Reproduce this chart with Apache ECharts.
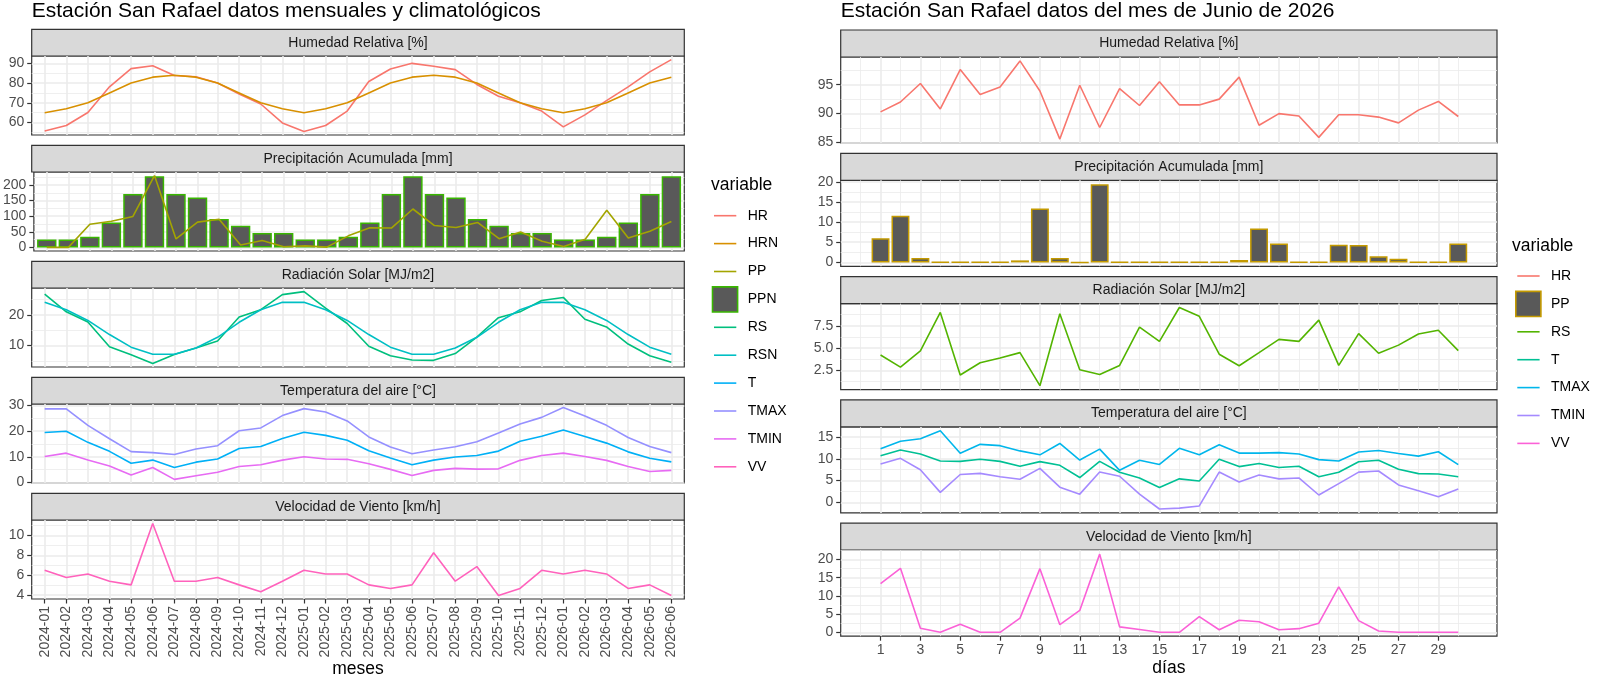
<!DOCTYPE html>
<html><head><meta charset="utf-8">
<script src="https://cdn.jsdelivr.net/npm/echarts@6/dist/echarts.min.js"></script>
<style>html,body{margin:0;padding:0;background:#fff}#c{width:1600px;height:676px}</style>
</head><body><div id="c"></div>
<script>
// ---------- DATA ----------
const months = ['2024-01','2024-02','2024-03','2024-04','2024-05','2024-06','2024-07','2024-08','2024-09','2024-10','2024-11','2024-12',
  '2025-01','2025-02','2025-03','2025-04','2025-05','2025-06','2025-07','2025-08','2025-09','2025-10','2025-11','2025-12',
  '2026-01','2026-02','2026-03','2026-04','2026-05','2026-06'];
const HR   = [55.7,58.5,65.1,78.1,87.3,88.8,83.8,83.2,80.0,74.5,69.4,59.8,55.5,58.5,65.8,80.8,87.1,90.0,88.5,86.8,79.3,73.3,70.0,65.8,57.8,63.9,71.1,78.1,85.7,91.9];
const HRN  = [65,67,70,75,80,83,84,83,80,75,70,67,65,67,70,75,80,83,84,83,80,75,70,67,65,67,70,75,80,83];
const PPN  = [25,25,34,80,171,228,171,160,91,69,46,46,25,25,34,80,171,228,171,160,91,69,46,46,25,25,34,80,171,228];
const PP   = [0,0,74,84,99,230,27,81,90,8,22,2,5,1,37,63,62,123,70,64,80,28,49,20,3,26,119,30,52,83];
const RS   = [26.8,21.0,17.7,9.6,7.0,4.2,7.1,9.2,11.5,19.3,21.7,26.6,27.6,22.2,17.2,9.8,6.7,5.3,5.2,7.4,12.8,19.1,21.0,24.7,25.7,18.6,16.1,10.5,6.7,4.6];
const RSN  = [24.1,21.7,18.2,13.6,9.5,7.2,7.2,9.2,12.7,17.6,21.7,24.1,24.1,21.7,18.2,13.6,9.5,7.2,7.2,9.2,12.7,17.6,21.7,24.1,24.1,21.7,18.2,13.6,9.5,7.2];
const T    = [19.4,19.9,15.6,12.1,7.5,8.7,5.8,7.9,9.1,13.2,14.0,17.1,19.5,18.3,16.4,12.3,9.5,6.9,8.7,9.9,10.5,12.2,16.0,18.0,20.4,17.9,15.3,11.9,9.4,8.0];
const TMAX = [28.6,28.6,22.2,17.0,12.0,11.6,10.9,13.0,14.3,20.1,21.2,26.0,28.7,27.4,23.9,17.7,13.8,11.2,12.6,13.9,15.8,19.2,22.7,25.3,29.1,25.8,22.2,17.5,14.0,11.6];
const TMIN = [10.1,11.4,8.7,6.4,2.9,5.8,1.2,2.6,4.0,6.2,6.9,8.7,10.0,9.1,9.0,7.3,5.1,2.7,4.7,5.5,5.2,5.3,8.6,10.5,11.4,10.1,8.6,6.2,4.3,4.7];
const VV   = [6.5,5.77,6.13,5.4,5.03,11.2,5.4,5.4,5.77,5.03,4.33,5.4,6.5,6.13,6.13,5.03,4.67,5.03,8.27,5.4,6.87,3.97,4.67,6.5,6.13,6.5,6.13,4.67,5.03,3.97];

const days = [1,2,3,4,5,6,7,8,9,10,11,12,13,14,15,16,17,18,19,20,21,22,23,24,25,26,27,28,29,30];
const dayTicks = [1,3,5,7,9,11,13,15,17,19,21,23,25,27,29];
const dHR   = [90.3,92.0,95.2,90.8,97.6,93.3,94.6,99.1,93.9,85.6,94.9,87.6,94.3,91.4,95.5,91.5,91.5,92.5,96.3,88.0,90.0,89.6,85.9,89.8,89.8,89.4,88.4,90.6,92.1,89.5];
const dPP   = [6.0,11.6,1.1,0.1,0.1,0.1,0.1,0.5,13.4,1.1,0,19.4,0.1,0.1,0.1,0.1,0.1,0.1,0.6,8.4,4.7,0.1,0.1,4.4,4.3,1.5,0.9,0.1,0.1,4.7];
const dRS   = [4.24,2.88,4.7,9.0,2.0,3.37,3.9,4.5,0.8,8.86,2.58,2.05,3.07,7.35,5.76,9.55,8.56,4.32,3.03,4.5,5.98,5.76,8.14,3.07,6.63,4.43,5.34,6.59,7.0,4.73];
const dT    = [10.7,12.0,11.1,9.5,9.4,9.9,9.4,8.3,9.35,8.5,5.7,9.4,6.9,5.6,3.4,5.4,4.9,9.9,8.2,8.9,8.0,8.3,5.9,6.9,9.3,9.65,7.6,6.6,6.5,5.9];
const dTMAX = [12.3,14.0,14.6,16.4,11.25,13.3,13.0,11.8,10.9,13.5,9.7,12.2,7.35,9.65,8.7,12.4,10.9,13.2,11.3,11.3,11.4,11.1,9.8,9.5,11.55,11.9,11.2,10.6,11.6,8.65];
const dTMIN = [8.8,10.1,7.5,2.3,6.4,6.65,5.9,5.3,7.8,3.5,1.9,6.95,6.0,1.9,-1.5,-1.3,-0.8,6.95,4.7,6.3,5.4,5.6,1.7,4.3,6.95,7.2,4.0,2.7,1.3,3.1];
const dVV   = [13.4,17.6,1.1,0,2.2,0,0,3.9,17.5,2.1,6.0,21.5,1.5,0.75,0,0,4.3,0.7,3.3,2.9,0.7,1.0,2.5,12.5,3.2,0.35,0,0,0,0];

const panelTitles = ['Humedad Relativa [%]','Precipitación Acumulada [mm]','Radiación Solar [MJ/m2]','Temperatura del aire [°C]','Velocidad de Viento [km/h]'];
const leftNames  = ['HR','HRN','PP','PPN','RS','RSN','T','TMAX','TMIN','VV'];
const rightNames = ['HR','PP','RS','T','TMAX','TMIN','VV'];

// ---------- STYLE / LAYOUT ----------
const FONT = '"Liberation Sans", Arial, Helvetica, sans-serif';
const colL = {HR:'#F8766D',HRN:'#D89000',PP:'#A3A500',PPN:'#39B600',RS:'#00BF7D',RSN:'#00BFC4',T:'#00B0F6',TMAX:'#9590FF',TMIN:'#E76BF3',VV:'#FF62BC'};
const colR = {HR:'#F8766D',PP:'#C49A00',RS:'#53B400',T:'#00C094',TMAX:'#00B6EB',TMIN:'#A58AFF',VV:'#FB61D7'};
const LL = {x:31.7, w:652.6, top0:29.3, period:116, strip:26.7, h:79};
const RL = {x:840.7, w:656.3, top0:30, period:123.3, strip:27, h:86};
const TXT = 14;

const leftFacets = [
  {step:10, dec:0, items:[['HR',HR,'line'],['HRN',HRN,'line']]},
  {step:50, dec:0, zero:true, items:[['PPN',PPN,'bar'],['PP',PP,'line']]},
  {step:10, dec:0, items:[['RS',RS,'line'],['RSN',RSN,'line']]},
  {step:10, dec:0, items:[['T',T,'line'],['TMAX',TMAX,'line'],['TMIN',TMIN,'line']]},
  {step:2, dec:0, items:[['VV',VV,'line']]}
];
const rightFacets = [
  {step:5, dec:0, items:[['HR',dHR,'line']]},
  {step:5, dec:0, zero:true, items:[['PP',dPP,'bar']]},
  {step:2.5, dec:1, items:[['RS',dRS,'line']]},
  {step:5, dec:0, items:[['T',dT,'line'],['TMAX',dTMAX,'line'],['TMIN',dTMIN,'line']]},
  {step:5, dec:0, items:[['VV',dVV,'line']]}
];

function expand(arrs, zero){
  let v = [].concat(...arrs).filter(x => x != null);
  let lo = Math.min(...v), hi = Math.max(...v);
  if (zero) { lo = Math.min(lo, 0); hi = Math.max(hi, 0); }
  const d = (hi - lo) * 0.05;
  return [lo - d, hi + d];
}
function tickList(min, max, step){
  const out = [];
  for (let t = Math.ceil(min/step - 1e-9)*step; t <= max + 1e-9; t += step) out.push(Math.round(t*1000)/1000);
  return out;
}
const gridLine = {show:true, lineStyle:{color:'#EBEBEB', width:1.6}};
const minorLine = {show:true, lineStyle:{color:'#EBEBEB', width:0.8}};
const tickStyle = {color:'#333333', width:1.2};
const labelBase = {fontSize:TXT, color:'#4D4D4D', fontFamily:FONT};

const grids = [], xAxes = [], yAxes = [], series = [], graphics = [];

function addFacet(side, k){
  const L = side === 'L' ? LL : RL;
  const f = (side === 'L' ? leftFacets : rightFacets)[k];
  const cols = side === 'L' ? colL : colR;
  const xs = side === 'L' ? months.map((m,i)=>i+1) : days;
  const gi = grids.length;
  const stripTop = L.top0 + L.period * k;
  const top = stripTop + L.strip;
  grids.push({left:L.x, top:top, width:L.w, height:L.h, show:true, backgroundColor:'#fff', borderColor:'#333333', borderWidth:1.2, containLabel:false});
  const bottom = k === 4;
  if (side === 'L') {
    const tk = xs.slice();
    xAxes.push({type:'value', gridIndex:gi, position:'bottom', min:0.4, max:30.6, minInterval:1, maxInterval:1,
      axisLine:{show:false, onZero:false},
      axisTick:{show:bottom, length:4.5, lineStyle:tickStyle, customValues:tk},
      axisLabel:Object.assign({show:bottom, rotate:90, margin:7, customValues:tk,
        formatter:v => { const i = Math.round(v); return Math.abs(v-i) > 1e-6 ? '' : (months[i-1] || ''); }}, labelBase),
      splitLine:gridLine});
  } else {
    xAxes.push({type:'value', gridIndex:gi, position:'bottom', min:-1, max:31.945, interval:2,
      axisLine:{show:false, onZero:false},
      axisTick:{show:bottom, length:4.5, lineStyle:tickStyle, customValues:dayTicks},
      axisLabel:Object.assign({show:bottom, margin:7, customValues:dayTicks,
        formatter:v => dayTicks.indexOf(v) >= 0 ? String(v) : ''}, labelBase),
      splitLine:gridLine,
      minorTick:{show:false, splitNumber:2},
      minorSplitLine:minorLine});
  }
  const [ymin, ymax] = expand(f.items.map(it => it[1]), f.zero);
  const ytk = tickList(ymin, ymax, f.step);
  yAxes.push({type:'value', gridIndex:gi, position:'left', min:ymin, max:ymax, minInterval:f.step, maxInterval:f.step,
    axisLine:{show:false, onZero:false},
    axisTick:{show:true, length:4.5, lineStyle:tickStyle, customValues:ytk},
    axisLabel:Object.assign({margin:7.5, customValues:ytk, formatter:v => {
      const r = v / f.step; if (Math.abs(r - Math.round(r)) > 1e-6) return ''; return v.toFixed(f.dec); }}, labelBase),
    splitLine:gridLine,
    minorTick:{show:false, splitNumber:2},
    minorSplitLine:minorLine});
  f.items.forEach(([name, arr, type]) => {
    const data = arr.map((v,i) => [xs[i], v]);
    if (type === 'bar') {
      series.push({type:'bar', name:name, xAxisIndex:gi, yAxisIndex:gi, data:data, barWidth:'90%',
        itemStyle:{color:'#595959', borderColor:cols[name], borderWidth:1.5}, silent:true, z:2});
    } else {
      series.push({type:'line', name:name, xAxisIndex:gi, yAxisIndex:gi, data:data, showSymbol:false, symbol:'none',
        lineStyle:{color:cols[name], width:1.6}, itemStyle:{color:cols[name]}, silent:true, z:3});
    }
  });
  // strip
  graphics.push({type:'rect', shape:{x:L.x, y:stripTop, width:L.w, height:L.strip},
    style:{fill:'#D9D9D9', stroke:'#333333', lineWidth:1.2}, silent:true});
  graphics.push({type:'text', x:L.x + L.w/2, y:stripTop + L.strip/2,
    style:{text:panelTitles[k], fill:'#1A1A1A', font:TXT + 'px ' + FONT, textAlign:'center', textVerticalAlign:'middle'}, silent:true});
}
for (let k = 0; k < 5; k++) { addFacet('L', k); addFacet('R', k); }

// titles
graphics.push({type:'text', x:LL.x, y:11, style:{text:'Estación San Rafael datos mensuales y climatológicos', fill:'#000', font:'21px ' + FONT, textAlign:'left', textVerticalAlign:'middle'}});
graphics.push({type:'text', x:RL.x, y:11, style:{text:'Estación San Rafael datos del mes de Junio de 2026', fill:'#000', font:'21px ' + FONT, textAlign:'left', textVerticalAlign:'middle'}});
graphics.push({type:'text', x:LL.x + LL.w/2, y:669.5, style:{text:'meses', fill:'#000', font:'17.5px ' + FONT, textAlign:'center', textVerticalAlign:'middle'}});
graphics.push({type:'text', x:RL.x + RL.w/2, y:668.5, style:{text:'días', fill:'#000', font:'17.5px ' + FONT, textAlign:'center', textVerticalAlign:'middle'}});

// legends
function legend(names, cols, barName, x0, y0, titleX, titleY){
  graphics.push({type:'text', x:titleX, y:titleY, style:{text:'variable', fill:'#000', font:'17.5px ' + FONT, textAlign:'left', textVerticalAlign:'middle'}});
  names.forEach((n, i) => {
    const y = y0 + i * 27.9;
    if (n === barName) {
      graphics.push({type:'rect', shape:{x:x0 + 0.8, y:y - 12.55, width:25.1, height:25.1},
        style:{fill:'#595959', stroke:cols[n], lineWidth:1.6}});
    } else {
      graphics.push({type:'line', shape:{x1:x0 + 2.3, y1:y, x2:x0 + 24.6, y2:y},
        style:{stroke:cols[n], lineWidth:1.6}});
    }
    graphics.push({type:'text', x:x0 + 36, y:y, style:{text:n, fill:'#000', font:TXT + 'px ' + FONT, textAlign:'left', textVerticalAlign:'middle'}});
  });
}
legend(leftNames, colL, 'PPN', 711.7, 215.7, 711, 185);
legend(rightNames, colR, 'PP', 1515, 276, 1512, 246);

const chart = echarts.init(document.getElementById('c'), null, {renderer:'canvas'});
chart.setOption({animation:false, backgroundColor:'#ffffff', grid:grids, xAxis:xAxes, yAxis:yAxes, series:series, graphic:{elements:graphics}});
</script></body></html>
